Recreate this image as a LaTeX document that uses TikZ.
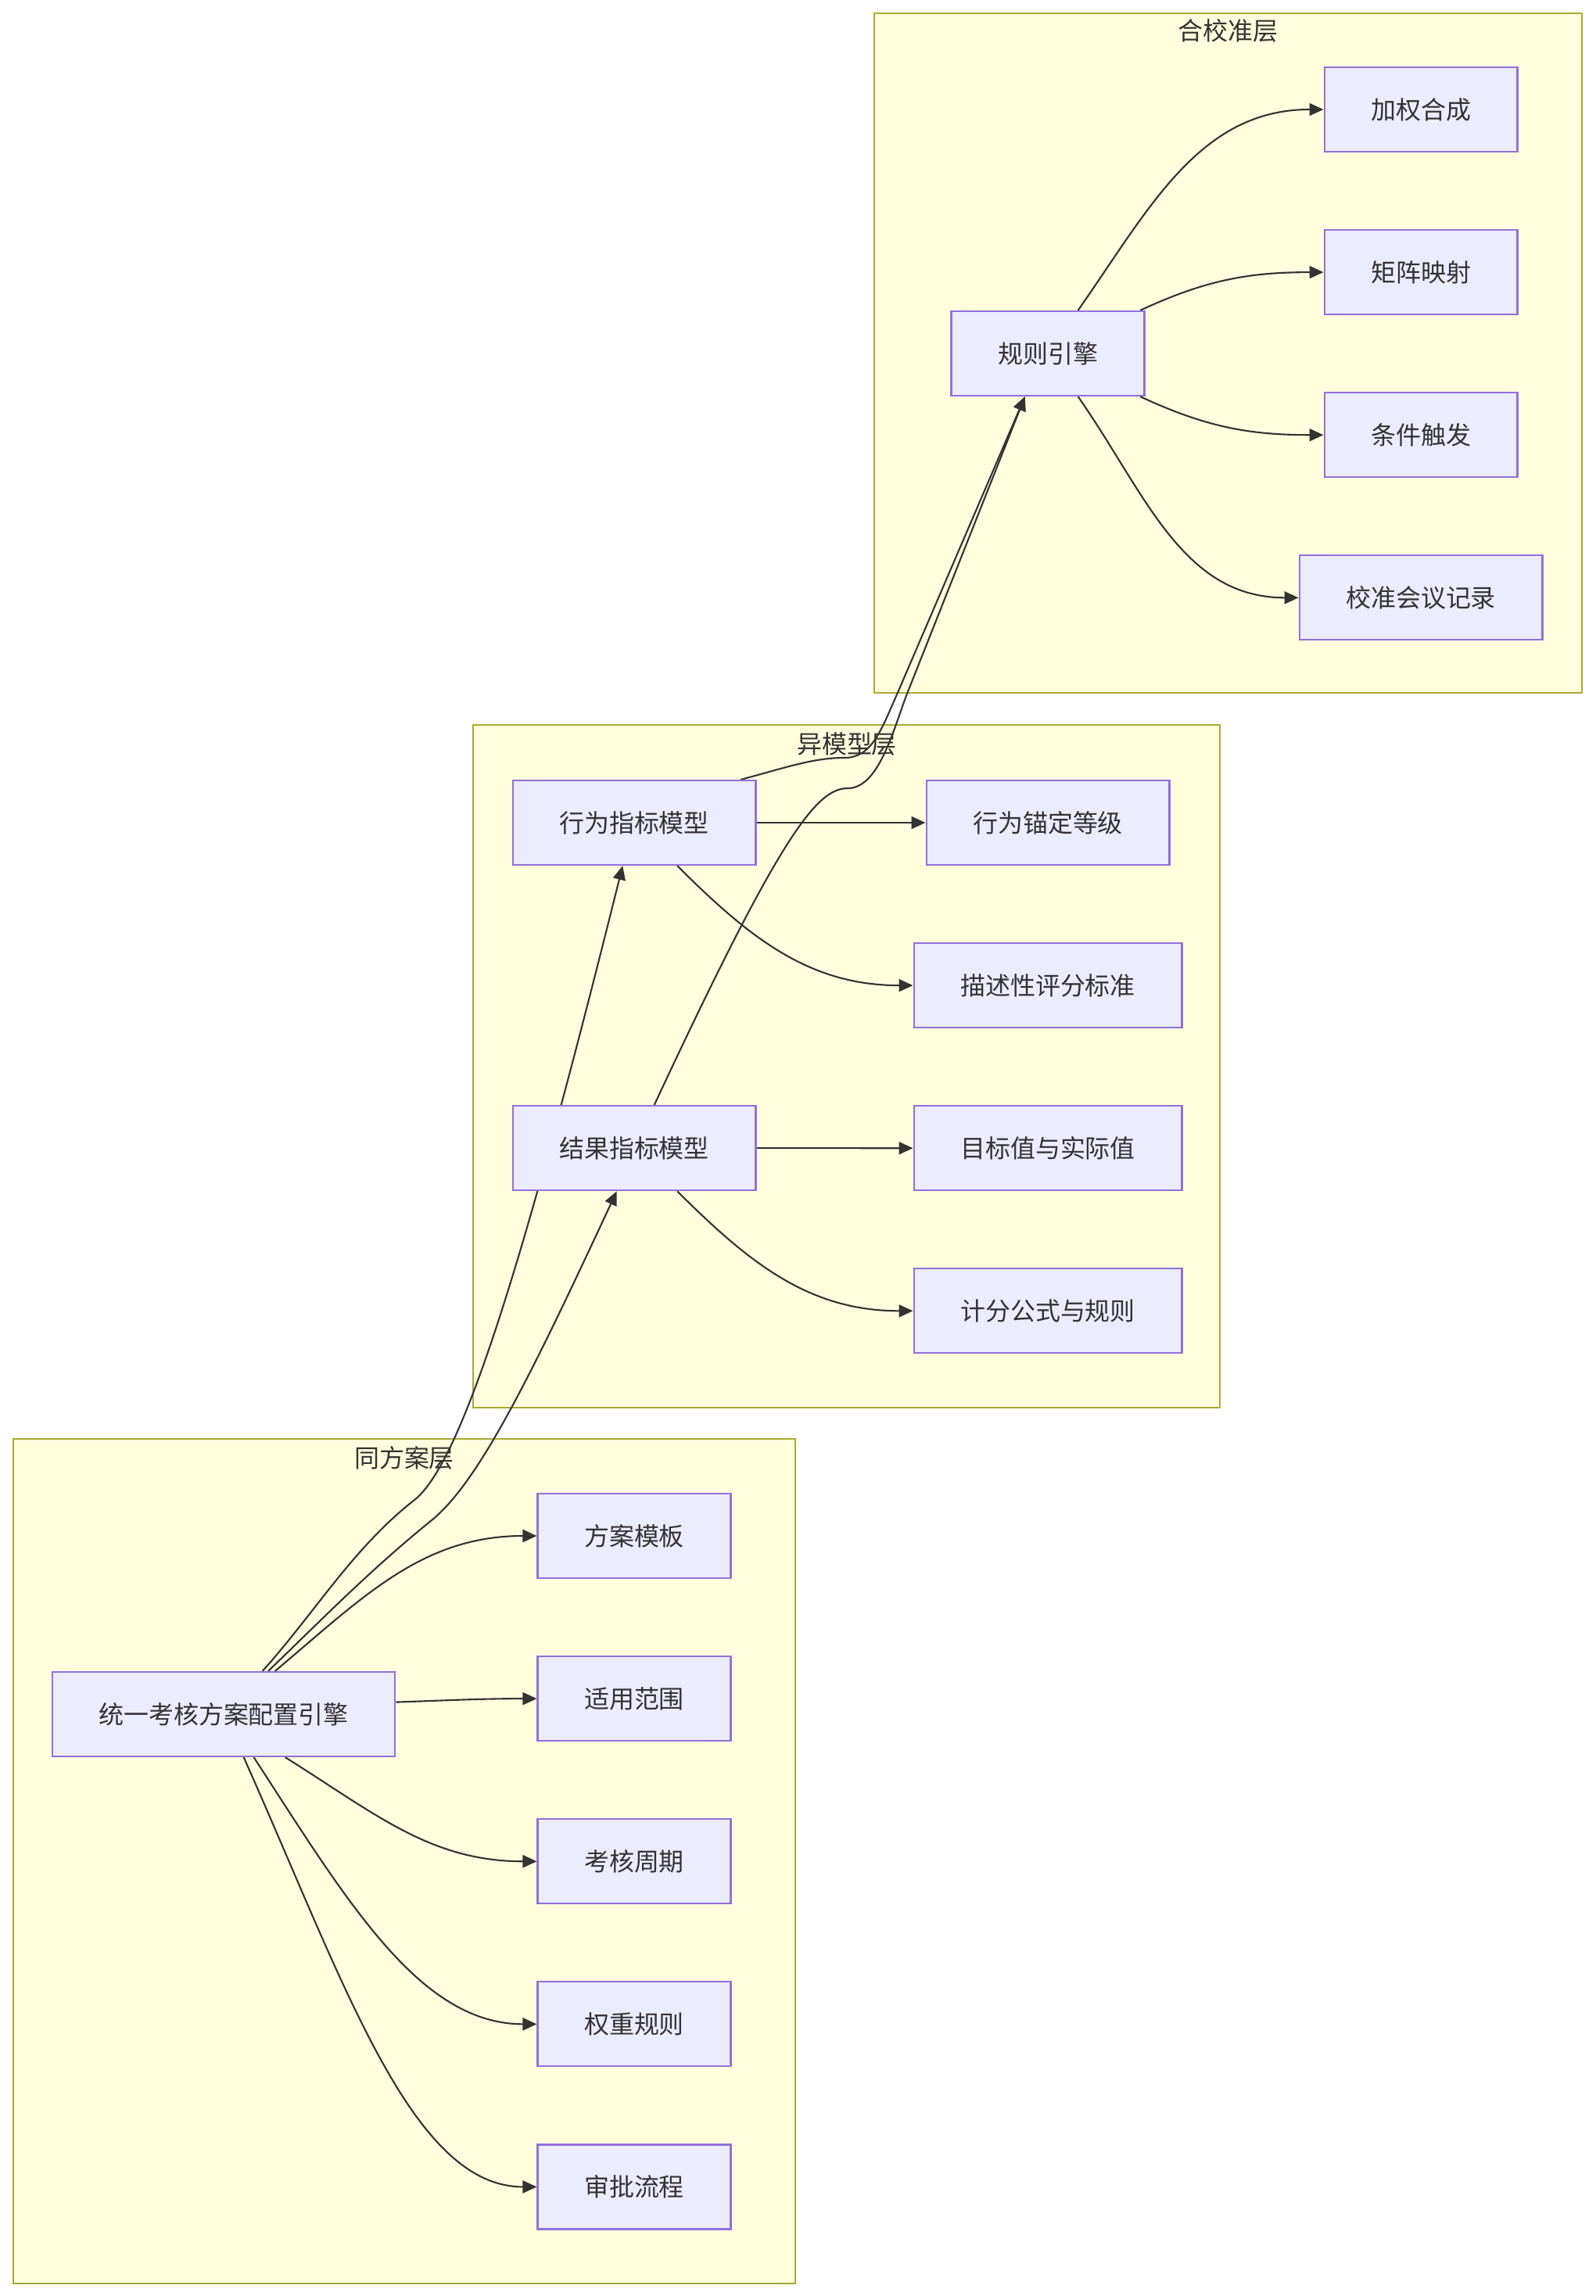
\documentclass[tikz,border=0pt]{standalone}
\usepackage{fontspec}
\setmainfont{Noto Sans CJK SC}
\usepackage{tikz}
\usetikzlibrary{arrows.meta, positioning}
\definecolor{nodefill}{HTML}{ECECFF}
\definecolor{nodeline}{HTML}{9370DB}
\definecolor{clusterfill}{HTML}{FFFFDE}
\definecolor{clusterline}{HTML}{AAAA33}
\definecolor{ink}{HTML}{333333}
\pgfdeclarelayer{bg}
\pgfdeclarelayer{edges}
\pgfsetlayers{bg,edges,main}
\tikzset{
  box/.style = {rectangle, draw=nodeline, fill=nodefill, line width=0.6pt,
    text=ink, minimum height=1.08cm, inner xsep=0.595cm},
  cluster/.style = {draw=clusterline, fill=clusterfill, line width=0.6pt},
  title/.style = {text=ink, inner sep=0pt},
  arrow/.style = {draw=ink, line width=0.6pt, -{Triangle[length=0.18cm, width=0.16cm]}},
}

\begin{document}
\begin{tikzpicture}[font=\fontsize{9.1}{11}\selectfont, node distance=0.98cm]
  \useasboundingbox (0,0) rectangle (20.40,-29.36);

  % Layer frames
  \begin{pgfonlayer}{bg}
    \draw[cluster] (11.18,-0.17) rectangle (20.23,-8.86);
    \draw[cluster] (6.05,-9.27) rectangle (15.60,-18.00);
    \draw[cluster] (0.17,-18.40) rectangle (10.17,-29.20);
  \end{pgfonlayer}
  \node[title] (tcal)  at (15.70,-0.39) {合校准层};
  \node[title] (tmod)  at (10.83,-9.51) {异模型层};
  \node[title] (tsame) at (5.17,-18.64) {同方案层};

  % Calibration layer
  \node[box] (rule) at (13.40,-4.52) {规则引擎};
  \node[box] (wsum) at (18.17,-1.40) {加权合成};
  \node[box, below=of wsum]   (matmap) {矩阵映射};
  \node[box, below=of matmap] (cond)   {条件触发};
  \node[box, below=of cond]   (meet)   {校准会议记录};

  % Model layer
  \node[box] (bhv) at (8.11,-10.52) {行为指标模型};
  \node[box, below=3.06cm of bhv] (res) {结果指标模型};
  \node[box] (anchorlv) at (13.40,-10.52) {行为锚定等级};
  \node[box, below=of anchorlv] (desc)    {描述性评分标准};
  \node[box, below=of desc]     (target)  {目标值与实际值};
  \node[box, below=of target]   (formula) {计分公式与规则};

  % Plan layer
  \node[box] (uni)  at (2.86,-21.92) {统一考核方案配置引擎};
  \node[box] (tmpl) at (8.11,-19.64) {方案模板};
  \node[box, below=of tmpl]   (scope)   {适用范围};
  \node[box, below=of scope]  (period)  {考核周期};
  \node[box, below=of period] (weight)  {权重规则};
  \node[box, below=of weight] (approve) {审批流程};

  % Bends of the long links
  \coordinate (bendA) at (5.30,-19.18);
  \coordinate (bendB) at (5.52,-19.44);
  \coordinate (bendC) at (10.80,-9.69);
  \coordinate (bendD) at (11.47,-8.88);
  \coordinate (bendE) at (10.84,-10.08);
  \coordinate (bendF) at (11.60,-8.87);

  \begin{pgfonlayer}{edges}
  % Calibration arrows
  \draw[arrow] (rule.55)  to[out=55, in=180]  (wsum.west);
  \draw[arrow] (rule.25)  to[out=25, in=180]  (matmap.west);
  \draw[arrow] (rule.-25) to[out=-25, in=180] (cond.west);
  \draw[arrow] (rule.-55) to[out=-55, in=180] (meet.west);

  % Model arrows
  \draw[arrow] (bhv.east) -- (anchorlv.west);
  \draw[arrow] (bhv.-45) to[out=-45, in=180] (desc.west);
  \draw[arrow] (res.east) -- (target.west);
  \draw[arrow] (res.-45) to[out=-45, in=180] (formula.west);

  % Plan arrows
  \draw[arrow] (uni.40)  to[out=40, in=180]  (tmpl.west);
  \draw[arrow] (uni.4)   to[out=2, in=180]   (scope.west);
  \draw[arrow] (uni.-35) to[out=-32, in=180] (period.west);
  \draw[arrow] (uni.-55) to[out=-57, in=180, out distance=2.2cm, in distance=1.5cm] (weight.west);
  \draw[arrow] (uni.-65) to[out=-66, in=180, out distance=3.2cm, in distance=1.6cm] (approve.west);

  % Links between layers
  \draw[arrow] (uni.48) to[out=48, in=218, distance=1cm] (bendA)
    to[out=38, in=256, out distance=0.8cm, in distance=5cm] (bhv.-105);
  \draw[arrow] (uni.44) to[out=44, in=219, distance=1cm] (bendB)
    to[out=39, in=245, out distance=0.8cm, in distance=2.5cm] (res.-112);
  \draw[arrow] (bhv.22) to[out=15, in=180, out distance=0.6cm, in distance=0.4cm] (bendC)
    to[out=0, in=246, out distance=0.35cm, in distance=0.5cm] (bendD) -- (rule.-118);
  \draw[arrow] (res.65) to[out=65, in=180, out distance=3.8cm, in distance=0.4cm] (bendE)
    to[out=0, in=249, out distance=0.4cm, in distance=0.5cm] (bendF) -- (rule.-118);
  \end{pgfonlayer}

\end{tikzpicture}
\end{document}
